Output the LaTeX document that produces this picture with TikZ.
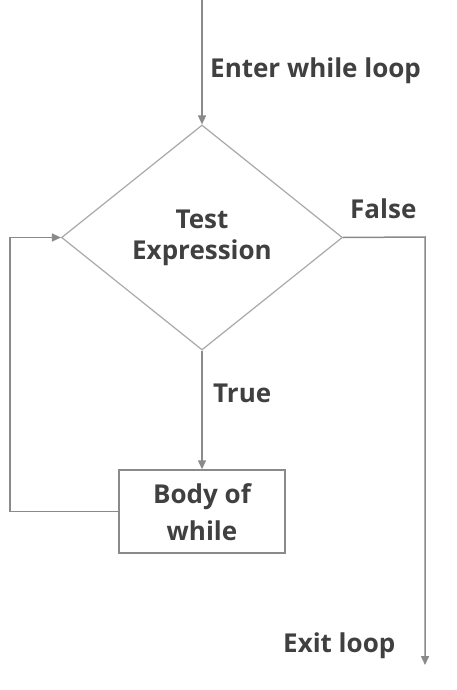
\documentclass[tikz,border=0pt]{standalone}
\usepackage{fontspec}
\setmainfont{Open Sans}
\usetikzlibrary{arrows.meta,shapes.geometric}
\definecolor{linegray}{HTML}{8A8A8A}
\definecolor{shapegray}{HTML}{A8A8A8}
\definecolor{textgray}{HTML}{404040}
\begin{document}
\begin{tikzpicture}[x=1pt,y=-1pt,
  conn/.style={draw=linegray,line width=1.5pt,-{Triangle[length=9pt,width=8pt]}},
  lbl/.style={font=\bfseries\fontsize{26}{31}\selectfont,text=textgray,inner sep=0pt},
  dec/.style={diamond,draw=shapegray,line width=1.2pt,minimum width=281pt,minimum height=225pt,inner sep=0pt,aspect=1.25},
  bodybox/.style={rectangle,draw=linegray,line width=1.5pt,minimum width=166pt,minimum height=83pt,inner sep=0pt}]
\useasboundingbox (0,0) rectangle (456,690);
\fill[white] (0,0) rectangle (456,690);
\coordinate (start) at (202,0);
\node[dec] (test) at (202,237.5) {};
\node[lbl,anchor=base] (testA) at (202,228) {Test};
\node[lbl,anchor=base] (testB) at (202,259) {Expression};
\node[bodybox] (body) at (202,511.5) {};
\node[lbl,anchor=base] (bodyA) at (202,503) {Body of};
\node[lbl,anchor=base] (bodyB) at (202,540) {while};
\coordinate (rt) at (425,237);
\coordinate (exit) at (425,665);
\coordinate (lb) at (10,511.5);
\coordinate (lt) at (10,237.5);
\draw[conn] (start) -- (test.north);
\draw[conn] (test.south) -- (body.north);
\draw[conn] (test.east) -- (rt) -- (exit);
\draw[conn] (body.west) -- (lb) -- (lt) -- (test.west);
\node[lbl,anchor=base west] (enter) at (210,78) {Enter while loop};
\node[lbl,anchor=base west] (false) at (350,218) {False};
\node[lbl,anchor=base west] (true) at (213,402) {True};
\node[lbl,anchor=base west] (exitlbl) at (283,652) {Exit loop};
\end{tikzpicture}
\end{document}
